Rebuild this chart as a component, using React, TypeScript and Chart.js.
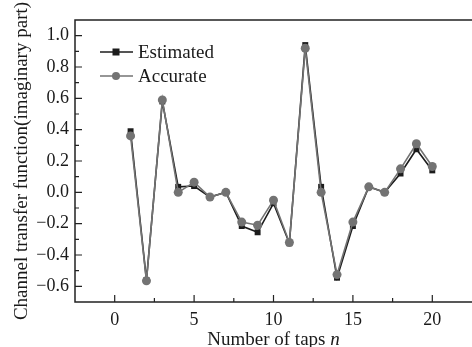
import React, { useEffect, useRef } from 'react';
import { Chart, registerables } from 'chart.js';
Chart.register(...registerables);

const taps = [1, 2, 3, 4, 5, 6, 7, 8, 9, 10, 11, 12, 13, 14, 15, 16, 17, 18, 19, 20];
const estimated = [0.39, -0.56, 0.58, 0.035, 0.04, -0.03, 0.0, -0.215, -0.255, -0.07, -0.325, 0.94, 0.035, -0.545, -0.215, 0.035, 0.0, 0.12, 0.275, 0.14];
const accurate = [0.36, -0.565, 0.59, 0.0, 0.065, -0.03, 0.0, -0.19, -0.21, -0.05, -0.32, 0.92, 0.0, -0.525, -0.19, 0.035, 0.0, 0.15, 0.31, 0.165];
const xTicks = [0, 5, 10, 15, 20];
const xMinorTicks = [2.5, 7.5, 12.5, 17.5];
const yTicks = [-0.6, -0.4, -0.2, 0.0, 0.2, 0.4, 0.6, 0.8, 1.0];
const yMinorTicks = [-0.5, -0.3, -0.1, 0.1, 0.3, 0.5, 0.7, 0.9];
const seriesNames = ['Estimated', 'Accurate'];
const xTitle = 'Number of taps ';
const xTitleItalic = 'n';
const yTitle = 'Channel transfer function(imaginary part)';

const FONT = '"Liberation Serif", "Times New Roman", serif';
const EST_COLOR = '#1c1c1c';
const ACC_COLOR = '#737373';

const framePlugin = {
  id: 'frameAndDecor',
  afterDraw(chart: any) {
    const { ctx, chartArea } = chart;
    const { left, right, top, bottom } = chartArea;
    const xs = chart.scales.x;
    const ys = chart.scales.y;
    ctx.save();
    ctx.strokeStyle = '#222';
    ctx.lineWidth = 1.5;
    ctx.beginPath();
    ctx.moveTo(right + 2, top);
    ctx.lineTo(left, top);
    ctx.lineTo(left, bottom);
    ctx.lineTo(right + 2, bottom);
    ctx.stroke();
    ctx.lineWidth = 1.2;
    ctx.beginPath();
    xTicks.forEach((v) => {
      const px = xs.getPixelForValue(v);
      ctx.moveTo(px, bottom);
      ctx.lineTo(px, bottom - 7);
    });
    xMinorTicks.forEach((v) => {
      const px = xs.getPixelForValue(v);
      ctx.moveTo(px, bottom);
      ctx.lineTo(px, bottom - 4);
    });
    yTicks.forEach((v) => {
      const py = ys.getPixelForValue(v);
      ctx.moveTo(left, py);
      ctx.lineTo(left + 7, py);
    });
    yMinorTicks.forEach((v) => {
      const py = ys.getPixelForValue(v);
      ctx.moveTo(left, py);
      ctx.lineTo(left + 4, py);
    });
    ctx.stroke();

    // x title with italic n
    ctx.fillStyle = '#1a1a1a';
    ctx.textBaseline = 'alphabetic';
    ctx.textAlign = 'left';
    const fsz = 19;
    ctx.font = `${fsz}px ${FONT}`;
    const w1 = ctx.measureText(xTitle).width;
    ctx.font = `italic ${fsz}px ${FONT}`;
    const w2 = ctx.measureText(xTitleItalic).width;
    const cx = xs.getPixelForValue(10);
    const startX = cx - (w1 + w2) / 2;
    const baseY = chart.height - 2;
    ctx.font = `${fsz}px ${FONT}`;
    ctx.fillText(xTitle, startX, baseY);
    ctx.font = `italic ${fsz}px ${FONT}`;
    ctx.fillText(xTitleItalic, startX + w1, baseY);

    // legend
    const lx = left + 25;
    const rows = [
      { name: seriesNames[0], color: EST_COLOR, shape: 'square', y: top + 32 },
      { name: seriesNames[1], color: ACC_COLOR, shape: 'circle', y: top + 56 },
    ];
    rows.forEach((r) => {
      ctx.strokeStyle = r.color;
      ctx.fillStyle = r.color;
      ctx.lineWidth = 1.6;
      ctx.beginPath();
      ctx.moveTo(lx, r.y);
      ctx.lineTo(lx + 33, r.y);
      ctx.stroke();
      const mx = lx + 16;
      if (r.shape === 'square') {
        ctx.fillRect(mx - 3.5, r.y - 3.5, 7, 7);
      } else {
        ctx.beginPath();
        ctx.arc(mx, r.y, 4, 0, Math.PI * 2);
        ctx.fill();
      }
      ctx.fillStyle = '#1a1a1a';
      ctx.font = `19px ${FONT}`;
      ctx.textBaseline = 'middle';
      ctx.fillText(r.name, lx + 38, r.y + 1);
    });
    ctx.restore();
  },
};

export default function App() {
  const ref = useRef<HTMLCanvasElement | null>(null);
  useEffect(() => {
    document.body.style.margin = '0';
    const canvas = ref.current;
    if (!canvas) return;
    const chart = new Chart(canvas, {
      type: 'line',
      data: {
        datasets: [
          {
            label: seriesNames[0],
            data: taps.map((t, i) => ({ x: t, y: estimated[i] })),
            borderColor: EST_COLOR,
            backgroundColor: EST_COLOR,
            borderWidth: 1.6,
            pointStyle: 'rect',
            pointRadius: 4.2,
            pointBorderWidth: 0,
            order: 1,
          },
          {
            label: seriesNames[1],
            data: taps.map((t, i) => ({ x: t, y: accurate[i] })),
            borderColor: ACC_COLOR,
            backgroundColor: ACC_COLOR,
            borderWidth: 1.6,
            pointStyle: 'circle',
            pointRadius: 4.5,
            pointBorderWidth: 0,
            order: 0,
          },
        ],
      },
      options: {
        animation: false,
        responsive: false,
        maintainAspectRatio: false,
        layout: { autoPadding: false, padding: { top: 20, right: 0, left: 0, bottom: 0 } },
        plugins: { legend: { display: false }, tooltip: { enabled: false } },
        scales: {
          x: {
            type: 'linear',
            min: -2.5,
            max: 22.5,
            afterBuildTicks: (s: any) => {
              s.ticks = xTicks.map((v) => ({ value: v }));
            },
            afterFit: (s: any) => {
              s.height = 45;
              s.paddingLeft = 0;
              s.paddingRight = 0;
            },
            grid: { display: false, drawTicks: false },
            border: { display: false },
            ticks: {
              padding: 7,
              color: '#1a1a1a',
              font: { family: FONT, size: 18 },
              maxRotation: 0,
              callback: (v: any) => String(v),
            },
          },
          y: {
            type: 'linear',
            min: -0.7,
            max: 1.1,
            afterBuildTicks: (s: any) => {
              s.ticks = yTicks.map((v) => ({ value: v }));
            },
            afterFit: (s: any) => {
              s.width = 75;
              s.paddingTop = 0;
              s.paddingBottom = 0;
            },
            grid: { display: false, drawTicks: false },
            border: { display: false },
            ticks: {
              padding: 6,
              color: '#1a1a1a',
              font: { family: FONT, size: 18 },
              callback: (v: any) => Number(v).toFixed(1).replace('-', '\u2212'),
            },
            title: {
              display: true,
              text: yTitle,
              color: '#1a1a1a',
              font: { family: FONT, size: 19 },
              padding: { top: 11, bottom: 0 },
            },
          },
        },
      },
      plugins: [framePlugin],
    });
    return () => chart.destroy();
  }, []);
  return (
    <div style={{ width: 472, height: 347 }}>
      <canvas ref={ref} width={472} height={347} style={{ display: 'block' }} />
    </div>
  );
}
